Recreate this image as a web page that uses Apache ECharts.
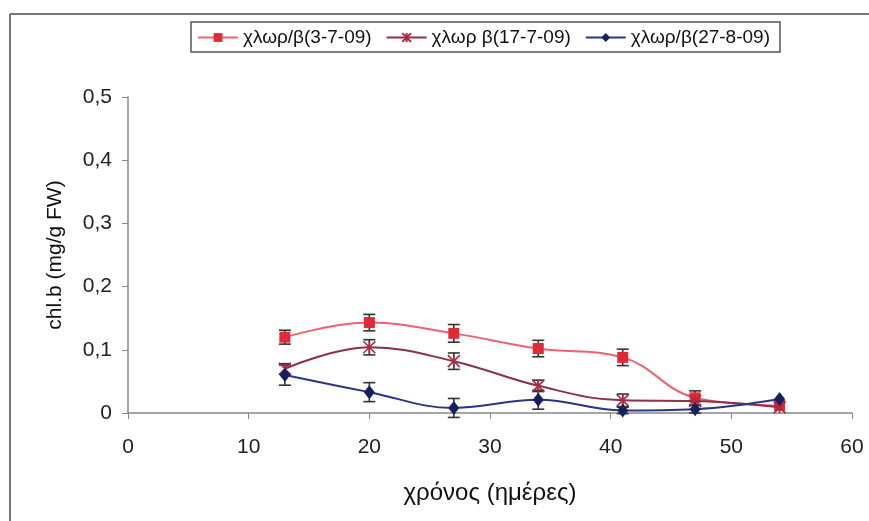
<!DOCTYPE html>
<html><head><meta charset="utf-8">
<script src="https://cdn.jsdelivr.net/npm/echarts@6/dist/echarts.min.js"></script>
<style>html,body{margin:0;padding:0;background:#fff}#c{width:869px;height:521px}</style>
</head><body><div id="c"></div>
<script>
const days = [13, 20, 27, 34, 41, 47, 54];
const names = ['χλωρ/β(3-7-09)', 'χλωρ β(17-7-09)', 'χλωρ/β(27-8-09)'];
const s1 = [0.120, 0.143, 0.126, 0.102, 0.088, 0.024, 0.012];
const s1Err = [0.011, 0.013, 0.014, 0.013, 0.013, 0.011, 0];
const s2 = [0.070, 0.104, 0.082, 0.043, 0.020, 0.019, 0.009];
const s2Err = [0.008, 0.012, 0.013, 0.009, 0.010, 0, 0];
const s3 = [0.060, 0.033, 0.008, 0.021, 0.004, 0.006, 0.022];
const s3Err = [0.016, 0.015, 0.015, 0.015, 0.005, 0.006, 0];
const xTicks = [0, 10, 20, 30, 40, 50, 60];
const yTicks = [0, 0.1, 0.2, 0.3, 0.4, 0.5];

const colors = {line: ['#F0606E', '#8E3048', '#2A3488'], mark: ['#E02A38', '#8A2040', '#16205E']};
const font = '"Liberation Sans", Arial, sans-serif';

function pairs(v) { return days.map((d, i) => [d, v[i]]); }
function errData(v, e) { return days.map((d, i) => [d, v[i], e[i]]).filter(r => r[2] > 0); }

function errSeries(v, e) {
  return {
    type: 'custom', silent: true, z: 3,
    data: errData(v, e),
    renderItem: function (params, api) {
      const x = api.value(0), y = api.value(1), er = api.value(2);
      const top = api.coord([x, y + er]);
      const bot = api.coord([x, y - er]);
      const w = 6;
      const st = {stroke: '#333', lineWidth: 1.6};
      return {type: 'group', children: [
        {type: 'line', shape: {x1: top[0], y1: top[1], x2: bot[0], y2: bot[1]}, style: st},
        {type: 'line', shape: {x1: top[0] - w, y1: top[1], x2: top[0] + w, y2: top[1]}, style: st},
        {type: 'line', shape: {x1: bot[0] - w, y1: bot[1], x2: bot[0] + w, y2: bot[1]}, style: st}
      ]};
    }
  };
}

const chart = echarts.init(document.getElementById('c'));
chart.setOption({
  animation: false,
  backgroundColor: '#fff',
  graphic: [
    {type: 'line', shape: {x1: 10, y1: 14, x2: 869, y2: 14}, style: {stroke: '#777', lineWidth: 2}},
    {type: 'line', shape: {x1: 10, y1: 14, x2: 10, y2: 521}, style: {stroke: '#777', lineWidth: 2}}
  ],
  legend: {
    left: 191, top: 22,
    padding: [6, 10, 5, 6],
    itemGap: 14, itemWidth: 40, itemHeight: 11,
    borderColor: '#555', borderWidth: 1.5,
    textStyle: {fontFamily: font, fontSize: 19, color: '#111'},
    data: names
  },
  grid: {left: 128, right: 17, top: 97, bottom: 108},
  xAxis: {
    type: 'value', min: 0, max: 60, interval: 10,
    name: 'χρόνος (ημέρες)', nameLocation: 'middle', nameGap: 68,
    nameTextStyle: {fontFamily: font, fontSize: 24, color: '#111'},
    axisLine: {lineStyle: {color: '#888', width: 1.5}},
    axisTick: {show: true, length: 6, lineStyle: {color: '#888'}},
    axisLabel: {fontFamily: font, fontSize: 21, color: '#222', margin: 24,
      formatter: v => xTicks.includes(v) ? String(v) : ''},
    splitLine: {show: false}
  },
  yAxis: {
    type: 'value', min: 0, max: 0.5, interval: 0.1,
    name: 'chl.b (mg/g FW)', nameLocation: 'middle', nameGap: 62, nameRotate: 90,
    nameTextStyle: {fontFamily: font, fontSize: 21, color: '#111'},
    axisLine: {show: true, lineStyle: {color: '#888', width: 1.5}},
    axisTick: {show: true, length: 6, lineStyle: {color: '#888'}},
    axisLabel: {fontFamily: font, fontSize: 21, color: '#222', margin: 16,
      formatter: v => { const t = yTicks.find(y => Math.abs(y - v) < 1e-9); return t === undefined ? '' : (t === 0 ? '0' : t.toFixed(1).replace('.', ',')); }},
    splitLine: {show: false}
  },
  series: [
    errSeries(s1, s1Err), errSeries(s2, s2Err), errSeries(s3, s3Err),
    {name: names[0], type: 'line', smooth: 0.4, data: pairs(s1), z: 4,
      symbol: 'rect', symbolSize: 11,
      lineStyle: {color: colors.line[0], width: 2},
      itemStyle: {color: colors.mark[0]}},
    {name: names[1], type: 'line', smooth: 0.4, data: pairs(s2), z: 5,
      symbol: 'path://M0,0L10,10M10,0L0,10M5,0L5,10', symbolSize: 12,
      lineStyle: {color: colors.line[1], width: 2},
      itemStyle: {color: 'rgba(0,0,0,0)', borderColor: '#B02840', borderWidth: 1.6}},
    {name: names[2], type: 'line', smooth: 0.4, data: pairs(s3), z: 6,
      symbol: 'diamond', symbolSize: [11, 14],
      lineStyle: {color: colors.line[2], width: 2},
      itemStyle: {color: colors.mark[2]}}
  ]
});
</script></body></html>
